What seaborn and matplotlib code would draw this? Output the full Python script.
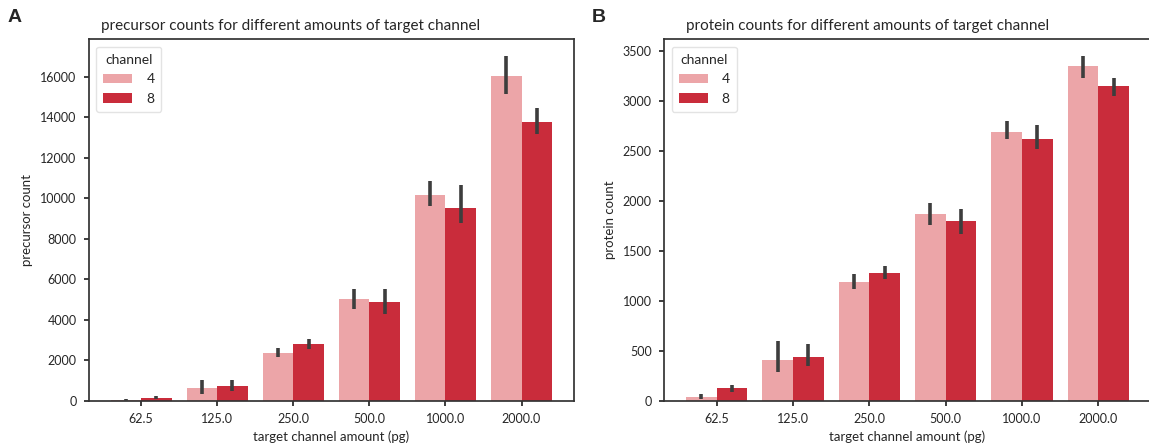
import matplotlib
matplotlib.use("Agg")
import matplotlib.pyplot as plt
import numpy as np
import pandas as pd
import seaborn as sns

# target channel amounts (pg) and carrier channel counts
amounts = ["62.5", "125.0", "250.0", "500.0", "1000.0", "2000.0"]
channels = ["4", "8"]

# precursor counts: mean and confidence interval per (amount, channel)
prec_mean_4 = [50, 650, 2365, 5010, 10150, 16050]
prec_lo_4 = [10, 360, 2150, 4520, 9620, 15120]
prec_hi_4 = [110, 1060, 2610, 5510, 10850, 17000]
prec_mean_8 = [150, 735, 2805, 4880, 9530, 13750]
prec_lo_8 = [80, 490, 2580, 4275, 8760, 13180]
prec_hi_8 = [230, 1030, 3080, 5500, 10640, 14440]

# protein counts: mean and confidence interval per (amount, channel)
prot_mean_4 = [40, 414, 1189, 1874, 2695, 3351]
prot_lo_4 = [17, 295, 1116, 1765, 2626, 3228]
prot_hi_4 = [66, 596, 1268, 1980, 2798, 3450]
prot_mean_8 = [126, 444, 1281, 1798, 2626, 3149]
prot_lo_8 = [89, 348, 1222, 1672, 2523, 3053]
prot_hi_8 = [159, 573, 1354, 1917, 2765, 3228]

palette = ["#eca5a8", "#c92c3b"]

sns.set_theme(style="ticks")
plt.rcParams["font.family"] = ["Lato", "DejaVu Sans"]
plt.rcParams["axes.linewidth"] = 1.25
plt.rcParams["axes.edgecolor"] = "#333333"

W, H = 1149, 447


def build_frame(mean4, lo4, hi4, mean8, lo8, hi8):
    rows = []
    for ch, m, lo, hi in (("4", mean4, lo4, hi4), ("8", mean8, lo8, hi8)):
        for a, mv, lv, hv in zip(amounts, m, lo, hi):
            rows.append({"amount": a, "channel": ch, "count": mv,
                         "lo": lv, "hi": hv})
    return pd.DataFrame(rows)


def draw_panel(ax, df, ylabel):
    sns.barplot(data=df, x="amount", y="count", hue="channel",
                order=amounts, hue_order=channels, palette=palette,
                saturation=1, errorbar=None, linewidth=0, ax=ax)
    for ch, container in zip(channels, ax.containers):
        sub = df[df["channel"] == ch].set_index("amount").loc[amounts]
        xs = [b.get_x() + b.get_width() / 2 for b in container]
        ax.vlines(xs, sub["lo"].values, sub["hi"].values,
                  color="#3d3d3d", linewidth=2.6, zorder=3)
    ax.set_xlabel("target channel amount (pg)", fontsize=9.5)
    ax.set_ylabel(ylabel, fontsize=9.5, labelpad=5)
    ax.tick_params(labelsize=9, length=3.3, pad=5.5)
    ax.margins(y=0.05)
    ax.set_ylim(bottom=0)
    leg = ax.legend(title="channel", loc="upper left", fontsize=10,
                    title_fontsize=10, handlelength=2.1, handletextpad=1.0,
                    labelspacing=0.55, borderpad=0.5, borderaxespad=0.55)
    leg.get_frame().set_edgecolor("#dddddd")


fig = plt.figure(figsize=(W / 100, H / 100), dpi=100)
ax1 = fig.add_axes([88.7 / W, 1 - 401 / H, (574 - 88.7) / W, (401 - 39) / H])
ax2 = fig.add_axes([664 / W, 1 - 401 / H, (1151 - 664) / W, (401 - 39) / H])

draw_panel(ax1, build_frame(prec_mean_4, prec_lo_4, prec_hi_4,
                            prec_mean_8, prec_lo_8, prec_hi_8),
           "precursor count")
draw_panel(ax2, build_frame(prot_mean_4, prot_lo_4, prot_hi_4,
                            prot_mean_8, prot_lo_8, prot_hi_8),
           "protein count")
ax2.set_yticks(np.arange(0, 3501, 500))

# panel titles
fig.text(101 / W, 1 - 26 / H, "precursor counts for different amounts of target channel",
         fontsize=11, va="center", ha="left")
fig.text(686 / W, 1 - 26 / H, "protein counts for different amounts of target channel",
         fontsize=11, va="center", ha="left")

fig.text(8 / W, 1 - 22 / H, "A", fontsize=14, fontweight="bold",
         family=["Liberation Sans", "DejaVu Sans"])
fig.text(592 / W, 1 - 22 / H, "B", fontsize=14, fontweight="bold",
         family=["Liberation Sans", "DejaVu Sans"])

fig.savefig("out.png", dpi=100)
